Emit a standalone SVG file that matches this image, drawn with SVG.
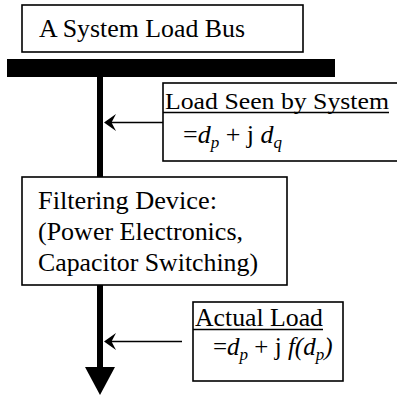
<svg xmlns="http://www.w3.org/2000/svg" width="397" height="396" viewBox="0 0 397 396">
<style>
.box{fill:#fff;stroke:#000;stroke-width:1.6}
.t{font-family:"Liberation Serif","Times New Roman",serif;fill:#000}
.it{font-style:italic}
.ul{stroke:#000;stroke-width:1.3}
.thin{stroke:#000;stroke-width:1.6;fill:none}
</style>
<rect width="397" height="396" fill="#fff"/>
<g id="bus-label">
<rect class="box" x="22" y="5" width="281" height="47"/>
<text class="t" x="39" y="37" font-size="25" textLength="206" lengthAdjust="spacingAndGlyphs">A System Load Bus</text>
</g>
<g id="bus">
<rect x="7" y="59" width="328" height="18" fill="#000"/>
</g>
<g id="load-seen">
<rect class="box" x="163" y="83" width="240" height="78"/>
<text class="t" x="165" y="109" font-size="24" textLength="224" lengthAdjust="spacingAndGlyphs">Load Seen by System</text>
<line class="ul" x1="163" y1="112.5" x2="389" y2="112.5"/>
<text class="t" x="183" y="143" font-size="26">=<tspan class="it">d</tspan><tspan class="it" font-size="17" dy="5">p</tspan><tspan dy="-5"> + j </tspan><tspan class="it">d</tspan><tspan class="it" font-size="17" dy="5">q</tspan></text>
</g>
<g id="filter">
<rect class="box" x="22" y="177" width="265" height="108"/>
<text class="t" x="38" y="209" font-size="25" textLength="179" lengthAdjust="spacingAndGlyphs">Filtering Device:</text>
<text class="t" x="38" y="240" font-size="25" textLength="205" lengthAdjust="spacingAndGlyphs">(Power Electronics,</text>
<text class="t" x="38" y="271" font-size="25" textLength="220" lengthAdjust="spacingAndGlyphs">Capacitor Switching)</text>
</g>
<g id="actual-load">
<rect class="box" x="193" y="302" width="150" height="79"/>
<text class="t" x="195" y="326" font-size="25" textLength="128" lengthAdjust="spacingAndGlyphs">Actual Load</text>
<line class="ul" x1="193" y1="329.5" x2="323" y2="329.5"/>
<text class="t" x="213" y="355" font-size="25">=<tspan class="it">d</tspan><tspan class="it" font-size="17" dy="5">p</tspan><tspan dy="-5"> + j </tspan><tspan class="it">f(d</tspan><tspan class="it" font-size="17" dy="5">p</tspan><tspan class="it" dy="-5">)</tspan></text>
</g>
<g id="connectors">
<rect x="97" y="77" width="6" height="100" fill="#000"/>
<rect x="97" y="285" width="6" height="84" fill="#000"/>
<path d="M85,367 L115,367 L100,395 Z" fill="#000"/>
<line class="thin" x1="163" y1="122.5" x2="110" y2="122.5"/>
<path d="M104,122.5 L116,114 L111.5,122.5 L116,131 Z" fill="#000"/>
<line class="thin" x1="182" y1="341.5" x2="110" y2="341.5"/>
<path d="M104,341.5 L116,333 L111.5,341.5 L116,350 Z" fill="#000"/>
</g>
</svg>
